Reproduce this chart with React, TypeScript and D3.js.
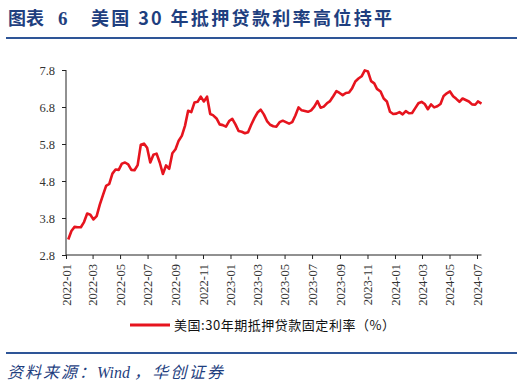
import React, { useEffect, useRef } from 'react';
import * as d3 from 'd3';

// Freddie Mac weekly 30-year fixed rate, 2022-01 .. 2024-07
const dates = [
  '2022-01-06', '2022-01-13', '2022-01-20', '2022-01-27', '2022-02-03', '2022-02-10', '2022-02-17', '2022-02-24',
  '2022-03-03', '2022-03-10', '2022-03-17', '2022-03-24', '2022-03-31', '2022-04-07', '2022-04-14', '2022-04-21',
  '2022-04-28', '2022-05-05', '2022-05-12', '2022-05-19', '2022-05-26', '2022-06-02', '2022-06-09', '2022-06-16',
  '2022-06-23', '2022-06-30', '2022-07-07', '2022-07-14', '2022-07-21', '2022-07-28', '2022-08-04', '2022-08-11',
  '2022-08-18', '2022-08-25', '2022-09-01', '2022-09-08', '2022-09-15', '2022-09-22', '2022-09-29', '2022-10-06',
  '2022-10-13', '2022-10-20', '2022-10-27', '2022-11-03', '2022-11-10', '2022-11-17', '2022-11-23', '2022-12-01',
  '2022-12-08', '2022-12-15', '2022-12-22', '2022-12-29', '2023-01-05', '2023-01-12', '2023-01-19', '2023-01-26',
  '2023-02-02', '2023-02-09', '2023-02-16', '2023-02-23', '2023-03-02', '2023-03-09', '2023-03-16', '2023-03-23',
  '2023-03-30', '2023-04-06', '2023-04-13', '2023-04-20', '2023-04-27', '2023-05-04', '2023-05-11', '2023-05-18',
  '2023-05-25', '2023-06-01', '2023-06-08', '2023-06-15', '2023-06-22', '2023-06-29', '2023-07-06', '2023-07-13',
  '2023-07-20', '2023-07-27', '2023-08-03', '2023-08-10', '2023-08-17', '2023-08-24', '2023-08-31', '2023-09-07',
  '2023-09-14', '2023-09-21', '2023-09-28', '2023-10-05', '2023-10-12', '2023-10-19', '2023-10-26', '2023-11-02',
  '2023-11-09', '2023-11-16', '2023-11-22', '2023-11-30', '2023-12-07', '2023-12-14', '2023-12-21', '2023-12-28',
  '2024-01-04', '2024-01-11', '2024-01-18', '2024-01-25', '2024-02-01', '2024-02-08', '2024-02-15', '2024-02-22',
  '2024-02-29', '2024-03-07', '2024-03-14', '2024-03-21', '2024-03-28', '2024-04-04', '2024-04-11', '2024-04-18',
  '2024-04-25', '2024-05-02', '2024-05-09', '2024-05-16', '2024-05-23', '2024-05-30', '2024-06-06', '2024-06-13',
  '2024-06-20', '2024-06-27', '2024-07-03', '2024-07-11',
];
const rates = [
  3.22, 3.45, 3.56, 3.55, 3.55, 3.69, 3.92, 3.89,
  3.76, 3.85, 4.16, 4.42, 4.67, 4.72, 5.0, 5.11,
  5.1, 5.27, 5.3, 5.25, 5.1, 5.09, 5.23, 5.78,
  5.81, 5.7, 5.3, 5.51, 5.54, 5.3, 4.99, 5.22,
  5.13, 5.55, 5.66, 5.89, 6.02, 6.29, 6.7, 6.66,
  6.92, 6.94, 7.08, 6.95, 7.08, 6.61, 6.58, 6.49,
  6.33, 6.31, 6.27, 6.42, 6.48, 6.33, 6.15, 6.13,
  6.09, 6.12, 6.32, 6.5, 6.65, 6.73, 6.6, 6.42,
  6.32, 6.28, 6.27, 6.39, 6.43, 6.39, 6.35, 6.39,
  6.57, 6.79, 6.71, 6.69, 6.67, 6.71, 6.81, 6.96,
  6.78, 6.81, 6.9, 6.96, 7.09, 7.23, 7.18, 7.12,
  7.18, 7.19, 7.31, 7.49, 7.57, 7.63, 7.79, 7.76,
  7.5, 7.44, 7.29, 7.22, 7.03, 6.95, 6.67, 6.61,
  6.62, 6.66, 6.6, 6.69, 6.63, 6.64, 6.77, 6.9,
  6.94, 6.88, 6.74, 6.87, 6.79, 6.82, 6.88, 7.1,
  7.17, 7.22, 7.09, 7.02, 6.94, 7.03, 6.99, 6.95,
  6.87, 6.86, 6.95, 6.89,
];
const yTicks = [2.8, 3.8, 4.8, 5.8, 6.8, 7.8];
const xTickMonths = [
  '2022-01', '2022-03', '2022-05', '2022-07', '2022-09', '2022-11', '2023-01', '2023-03',
  '2023-05', '2023-07', '2023-09', '2023-11', '2024-01', '2024-03', '2024-05', '2024-07',
];
const seriesName = '美国:30年期抵押贷款固定利率（%）';

const BLUE = '#1f3f7f';
const RED = '#e6141e';
const SERIF = '"Liberation Serif", "Times New Roman", serif';
const CJK = '"Noto Sans CJK SC", sans-serif';

export default function App() {
  const ref = useRef<SVGSVGElement>(null);

  useEffect(() => {
    const svg = d3.select(ref.current);
    svg.selectAll('*').remove();

    const parse = d3.timeParse('%Y-%m-%d');
    const parseMonth = d3.timeParse('%Y-%m');
    const data = dates.map((d, i) => ({ date: parse(d) as Date, value: rates[i] }));

    const x = d3
      .scaleTime()
      .domain([parseMonth('2022-01') as Date, parse('2024-07-11') as Date])
      .range([66, 481.5]);
    const y = d3.scaleLinear().domain([2.8, 7.8]).range([255, 70]);

    // header
    svg.append('text').attr('x', 8).attr('y', 25).attr('font-size', 18).attr('font-weight', 'bold')
      .style('font-family', CJK).attr('fill', BLUE).text('图表');
    svg.append('text').attr('x', 58).attr('y', 25).attr('font-size', 19).attr('font-weight', 'bold')
      .style('font-family', SERIF).attr('fill', BLUE).text('6');
    svg.append('text').attr('x', 91).attr('y', 25).attr('font-size', 18).attr('font-weight', 'bold')
      .style('font-family', CJK).attr('fill', BLUE)
      .attr('textLength', 301).attr('lengthAdjust', 'spacing')
      .text('美国 30 年抵押贷款利率高位持平');
    svg.append('line').attr('x1', 6).attr('x2', 517).attr('y1', 38).attr('y2', 38)
      .attr('stroke', '#2e5597').attr('stroke-width', 2);

    // axes
    const yAxis = svg.append('g').attr('transform', 'translate(66,0)')
      .call(d3.axisLeft(y).tickValues(yTicks).tickFormat(d3.format('.1f')).tickSize(4).tickPadding(7));
    const xAxis = svg.append('g').attr('transform', 'translate(0,255)')
      .call(d3.axisBottom(x).tickValues(xTickMonths.map((m) => parseMonth(m) as Date))
        .tickFormat(d3.timeFormat('%Y-%m') as any).tickSize(4).tickSizeOuter(0));
    [yAxis, xAxis].forEach((g) => {
      g.attr('font-family', null).style('font-family', SERIF);
      g.select('.domain').attr('stroke', '#222');
      g.selectAll('.tick line').attr('stroke', '#222');
      g.selectAll('.tick text').style('font-family', SERIF)
        .attr('font-size', 12.5).attr('fill', '#333');
    });
    yAxis.select('.domain').attr('d', 'M0,70V255');
    xAxis.select('.domain').attr('d', 'M66,0H481.5');
    xAxis.selectAll('.tick text')
      .attr('transform', 'rotate(-90)')
      .attr('text-anchor', 'end')
      .attr('x', -9)
      .attr('y', 0)
      .attr('dy', '0.35em');

    // series
    const line = d3.line<{ date: Date; value: number }>()
      .x((d) => x(d.date))
      .y((d) => y(d.value));
    svg.append('path').datum(data).attr('d', line).attr('fill', 'none')
      .attr('stroke', RED).attr('stroke-width', 2.6).attr('stroke-linejoin', 'round');

    // legend
    svg.append('line').attr('x1', 130).attr('x2', 170).attr('y1', 325).attr('y2', 325)
      .attr('stroke', RED).attr('stroke-width', 3);
    svg.append('text').attr('x', 174).attr('y', 330).attr('font-size', 13)
      .style('font-family', CJK).attr('fill', '#111')
      .attr('textLength', 221).attr('lengthAdjust', 'spacing').text(seriesName);

    // footer
    svg.append('line').attr('x1', 6).attr('x2', 517).attr('y1', 353).attr('y2', 353)
      .attr('stroke', '#2e5597').attr('stroke-width', 2);
    const foot = svg.append('text').attr('y', 378).attr('font-size', 16).attr('font-style', 'italic')
      .attr('fill', BLUE);
    foot.append('tspan').attr('x', 7).style('font-family', CJK).attr('textLength', 88)
      .attr('lengthAdjust', 'spacing').text('资料来源：');
    foot.append('tspan').attr('x', 97).style('font-family', SERIF).text('Wind');
    foot.append('tspan').attr('x', 134).style('font-family', CJK).attr('textLength', 89)
      .attr('lengthAdjust', 'spacing').text('，华创证券');
  }, []);

  return (
    <svg ref={ref} width={524} height={387} style={{ position: 'absolute', left: 0, top: 0, background: '#fff' }} />
  );
}
